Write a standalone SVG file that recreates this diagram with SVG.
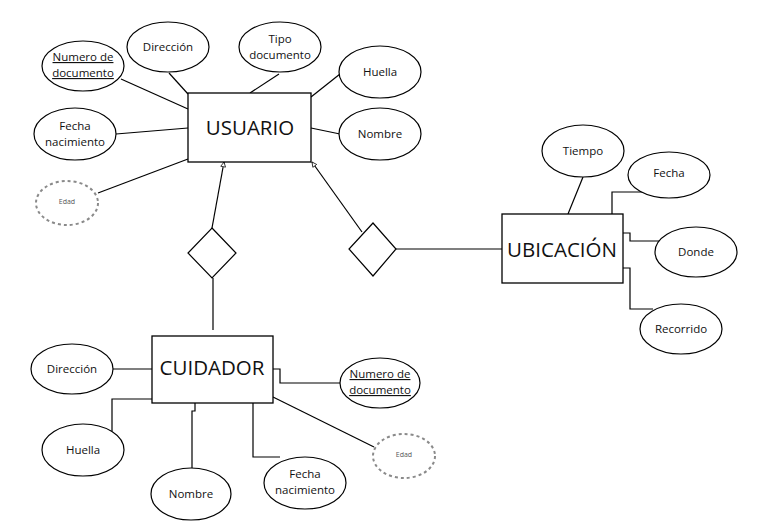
<svg xmlns="http://www.w3.org/2000/svg" width="762" height="529" viewBox="0 0 762 529">
<defs>
<style>
.ent{fill:#fff;stroke:#000;stroke-width:1.3}
.att{fill:#fff;stroke:#000;stroke-width:1.2}
.der{fill:#fff;stroke:#8a8a8a;stroke-width:2;stroke-dasharray:3 3}
.rel{fill:#fff;stroke:#000;stroke-width:1.2}
.ln{fill:none;stroke:#000;stroke-width:1.2}
.t{font-family:"Open Sans","Liberation Sans",sans-serif;font-size:11.5px;fill:#111;text-anchor:middle}
.big{font-family:"Open Sans","Liberation Sans",sans-serif;font-size:20.5px;fill:#111;text-anchor:middle}
.sm{font-family:"Open Sans","Liberation Sans",sans-serif;font-size:7px;fill:#555;text-anchor:middle}
.u{text-decoration:underline}
</style>
<marker id="arr" viewBox="0 0 10 10" refX="9" refY="5" markerWidth="6" markerHeight="6" orient="auto" markerUnits="userSpaceOnUse">
<path d="M1,1 L9,5 L1,9 Z" fill="#fff" stroke="#000" stroke-width="1.2"/>
</marker>
</defs>
<rect width="762" height="529" fill="#fff"/>
<g id="connectors">
<line class="ln" x1="121" y1="79" x2="188" y2="109"/>
<line class="ln" x1="169" y1="73" x2="188" y2="94"/>
<line class="ln" x1="279" y1="74" x2="250" y2="93"/>
<line class="ln" x1="340" y1="74" x2="311" y2="97"/>
<line class="ln" x1="311" y1="128" x2="340" y2="134"/>
<line class="ln" x1="116" y1="134" x2="188" y2="128"/>
<line class="ln" x1="98" y1="193" x2="188" y2="159"/>
<line class="ln" x1="212" y1="228" x2="224" y2="162" marker-end="url(#arr)"/>
<line class="ln" x1="362" y1="232" x2="312" y2="162" marker-end="url(#arr)"/>
<line class="ln" x1="396" y1="249" x2="502" y2="249"/>
<line class="ln" x1="583" y1="177" x2="568" y2="214"/>
<polyline class="ln" points="644,192 612,192 612,214"/>
<polyline class="ln" points="623,233 630,233 630,241 660,241"/>
<polyline class="ln" points="623,268 630,268 630,309 653,309"/>
<line class="ln" x1="213" y1="278" x2="213" y2="330"/>
<line class="ln" x1="113" y1="369" x2="152" y2="369"/>
<polyline class="ln" points="273,369 280,369 280,383 340,383"/>
<polyline class="ln" points="152,399 112,399 112,431"/>
<polyline class="ln" points="195,403 195,411 192,411 192,468"/>
<polyline class="ln" points="253,403 253,457 280,457"/>
<line class="ln" x1="273" y1="397" x2="374" y2="447"/>
</g>
<g id="usuario"><rect class="ent" x="188" y="93" width="123" height="69"/><text class="big" x="250" y="135">USUARIO</text></g>
<g id="u-numdoc"><ellipse class="att" cx="83" cy="66" rx="41" ry="25"/><text class="t u" x="83" y="61">Numero de</text><text class="t u" x="83" y="77">documento</text></g>
<g id="u-direccion"><ellipse class="att" cx="168" cy="47" rx="41" ry="25"/><text class="t" x="168" y="51">Dirección</text></g>
<g id="u-tipodoc"><ellipse class="att" cx="280" cy="47" rx="41" ry="25"/><text class="t" x="280" y="43">Tipo</text><text class="t" x="280" y="59">documento</text></g>
<g id="u-huella"><ellipse class="att" cx="380" cy="72" rx="41" ry="26"/><text class="t" x="380" y="76">Huella</text></g>
<g id="u-nombre"><ellipse class="att" cx="380" cy="134" rx="41" ry="26"/><text class="t" x="380" y="138">Nombre</text></g>
<g id="u-fecha"><ellipse class="att" cx="75" cy="134" rx="41" ry="26"/><text class="t" x="75" y="130">Fecha</text><text class="t" x="75" y="146">nacimiento</text></g>
<g id="u-edad"><ellipse class="der" cx="67" cy="203" rx="31" ry="22"/><text class="sm" x="67" y="204">Edad</text></g>
<g id="rel1"><polygon class="rel" points="212,228 236,253 212,278 188,253"/></g>
<g id="rel2"><polygon class="rel" points="373,223 396,249 373,276 349,249"/></g>
<g id="ubicacion"><rect class="ent" x="502" y="214" width="121" height="69"/><text class="big" x="562" y="257">UBICACIÓN</text></g>
<g id="b-tiempo"><ellipse class="att" cx="583" cy="151" rx="41" ry="26"/><text class="t" x="583" y="155">Tiempo</text></g>
<g id="b-fecha"><ellipse class="att" cx="669" cy="175" rx="41" ry="23"/><text class="t" x="669" y="177">Fecha</text></g>
<g id="b-donde"><ellipse class="att" cx="696" cy="252" rx="41" ry="25"/><text class="t" x="696" y="256">Donde</text></g>
<g id="b-recorrido"><ellipse class="att" cx="681" cy="329" rx="41" ry="25"/><text class="t" x="681" y="333">Recorrido</text></g>
<g id="cuidador"><rect class="ent" x="152" y="336" width="121" height="67"/><text class="big" x="212" y="375">CUIDADOR</text></g>
<g id="c-direccion"><ellipse class="att" cx="72" cy="369" rx="41" ry="25"/><text class="t" x="72" y="373">Dirección</text></g>
<g id="c-numdoc"><ellipse class="att" cx="380" cy="383" rx="40" ry="25"/><text class="t u" x="380" y="378">Numero de</text><text class="t u" x="380" y="394">documento</text></g>
<g id="c-huella"><ellipse class="att" cx="83" cy="450" rx="41" ry="26"/><text class="t" x="83" y="454">Huella</text></g>
<g id="c-nombre"><ellipse class="att" cx="191" cy="494" rx="40" ry="26"/><text class="t" x="191" y="498">Nombre</text></g>
<g id="c-fecha"><ellipse class="att" cx="305" cy="483" rx="41" ry="26"/><text class="t" x="305" y="478">Fecha</text><text class="t" x="305" y="494">nacimiento</text></g>
<g id="c-edad"><ellipse class="der" cx="404" cy="456" rx="31" ry="22"/><text class="sm" x="404" y="457">Edad</text></g>
</svg>
